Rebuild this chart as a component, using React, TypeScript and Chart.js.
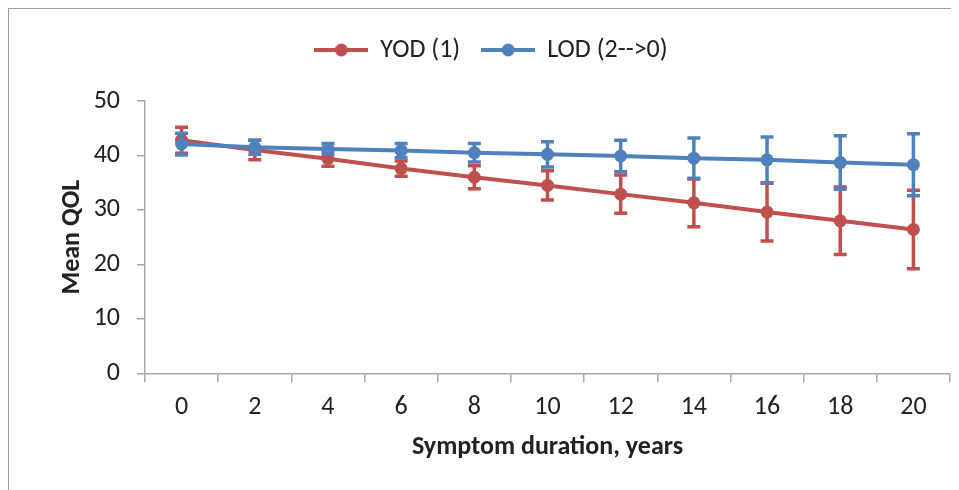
import React, { useEffect, useRef } from "react";
import { Chart, registerables } from "chart.js";

Chart.register(...registerables);

const categories = ["0", "2", "4", "6", "8", "10", "12", "14", "16", "18", "20"];
const yodMean = [42.8, 41.0, 39.4, 37.6, 36.0, 34.5, 32.9, 31.3, 29.6, 28.0, 26.4];
const yodErr = [2.4, 1.8, 1.4, 1.4, 2.1, 2.7, 3.5, 4.4, 5.3, 6.2, 7.2];
const lodMean = [42.1, 41.5, 41.2, 40.9, 40.5, 40.2, 39.9, 39.5, 39.2, 38.7, 38.3];
const lodErr = [2.0, 1.3, 1.0, 1.3, 1.7, 2.3, 2.9, 3.7, 4.2, 4.9, 5.7];
const seriesNames = ["YOD (1)", "LOD (2-->0)"];
const yMin = 0;
const yMax = 50;
const yStep = 10;

const RED = "#C0504D";
const BLUE = "#4F81BD";
const AXIS = "#A6A6A6";
const TEXT = "#222222";
const FONT = "Carlito, Lato, 'Open Sans', sans-serif";
const FS = 26;

function legendImage(color: string) {
  const c = document.createElement("canvas");
  c.width = 54;
  c.height = 14;
  const ctx = c.getContext("2d")!;
  ctx.strokeStyle = color;
  ctx.lineWidth = 4;
  ctx.beginPath();
  ctx.moveTo(0, 7);
  ctx.lineTo(54, 7);
  ctx.stroke();
  ctx.fillStyle = color;
  ctx.beginPath();
  ctx.arc(27, 7, 6.5, 0, Math.PI * 2);
  ctx.fill();
  return c;
}

const errorBarPlugin = {
  id: "errorBars",
  afterDatasetDraw(chart: any, args: any, opts: any) {
    const errs = opts.errors?.[args.index];
    if (!errs) return;
    const ds = chart.data.datasets[args.index];
    const yScale = chart.scales.y;
    const ctx = chart.ctx;
    ctx.save();
    ctx.strokeStyle = ds.borderColor;
    ctx.lineWidth = 3.5;
    ctx.lineCap = "butt";
    args.meta.data.forEach((pt: any, i: number) => {
      const v = ds.data[i];
      const e = errs[i];
      const x = pt.x;
      const yt = yScale.getPixelForValue(v + e);
      const yb = yScale.getPixelForValue(v - e);
      ctx.beginPath();
      ctx.moveTo(x, yt);
      ctx.lineTo(x, yb);
      ctx.moveTo(x - 6.5, yt);
      ctx.lineTo(x + 6.5, yt);
      ctx.moveTo(x - 6.5, yb);
      ctx.lineTo(x + 6.5, yb);
      ctx.stroke();
    });
    ctx.restore();
  },
};

export default function App() {
  const ref = useRef<HTMLCanvasElement>(null);
  useEffect(() => {
    if (!ref.current) return;
    const images = [legendImage(RED), legendImage(BLUE)];
    const chart = new Chart(ref.current, {
      type: "line",
      data: {
        labels: categories,
        datasets: [
          {
            label: seriesNames[0],
            data: yodMean,
            borderColor: RED,
            backgroundColor: RED,
            pointBackgroundColor: RED,
            pointBorderWidth: 0,
            pointRadius: 6.5,
            borderWidth: 4,
            tension: 0,
            order: 1,
          },
          {
            label: seriesNames[1],
            data: lodMean,
            borderColor: BLUE,
            backgroundColor: BLUE,
            pointBackgroundColor: BLUE,
            pointBorderWidth: 0,
            pointRadius: 6.5,
            borderWidth: 4,
            tension: 0,
            order: 0,
          },
        ],
      },
      options: {
        animation: false,
        responsive: false,
        maintainAspectRatio: false,
        layout: { padding: { top: 6, left: 24, right: 9, bottom: 0 } },
        plugins: {
          tooltip: { enabled: false },
          legend: {
            position: "top",
            labels: {
              usePointStyle: true,
              pointStyleWidth: 52,
              padding: 22,
              color: TEXT,
              font: { family: FONT, size: FS },
              sort: (a: any, b: any) => a.datasetIndex - b.datasetIndex,
              generateLabels: (c: any) => {
                const items = (Chart.defaults.plugins.legend.labels as any).generateLabels(c);
                return items.map((it: any) => ({ ...it, pointStyle: images[it.datasetIndex] }));
              },
            },
          },
          subtitle: {
            display: true,
            text: " ",
            weight: 500,
            font: { size: 10 },
            padding: { top: 16, bottom: 0 },
          } as any,
          errorBars: { errors: [yodErr, lodErr] },
        } as any,
        scales: {
          x: {
            type: "category",
            offset: true,
            grid: {
              display: true,
              offset: true,
              drawOnChartArea: false,
              drawTicks: true,
              tickLength: 9,
              color: AXIS,
              lineWidth: 1.5,
            },
            border: { display: true, color: AXIS, width: 1.5 },
            ticks: { color: TEXT, font: { family: FONT, size: FS }, padding: 9.8, maxRotation: 0 },
            title: {
              display: true,
              text: "Symptom duration, years",
              color: TEXT,
              font: { family: FONT, size: FS, weight: "bold" },
              padding: { top: 0, bottom: 27.4 },
            },
            afterFit: (s: any) => {
              s.height = 116.7;
            },
          },
          y: {
            min: yMin,
            max: yMax,
            ticks: { stepSize: yStep, color: TEXT, font: { family: FONT, size: FS }, padding: 17 },
            grid: {
              display: true,
              drawOnChartArea: false,
              drawTicks: true,
              tickLength: 8,
              color: AXIS,
              lineWidth: 1.5,
            },
            border: { display: true, color: AXIS, width: 1.5 },
            title: {
              display: true,
              text: "Mean QOL",
              color: TEXT,
              font: { family: FONT, size: FS, weight: "bold" },
              padding: { top: 23.4, bottom: 0 },
            },
            afterFit: (s: any) => {
              s.width = 112;
            },
          },
        },
      },
      plugins: [errorBarPlugin as any],
    });
    return () => chart.destroy();
  }, []);
  return (
    <div
      style={{
        width: 950,
        height: 481,
        borderTop: "1.5px solid #A0A0A0",
        borderLeft: "1.5px solid #A0A0A0",
        background: "#fff",
        overflow: "hidden",
      }}
    >
      <canvas ref={ref} width={950} height={481} style={{ display: "block", width: 950, height: 481 }} />
    </div>
  );
}
